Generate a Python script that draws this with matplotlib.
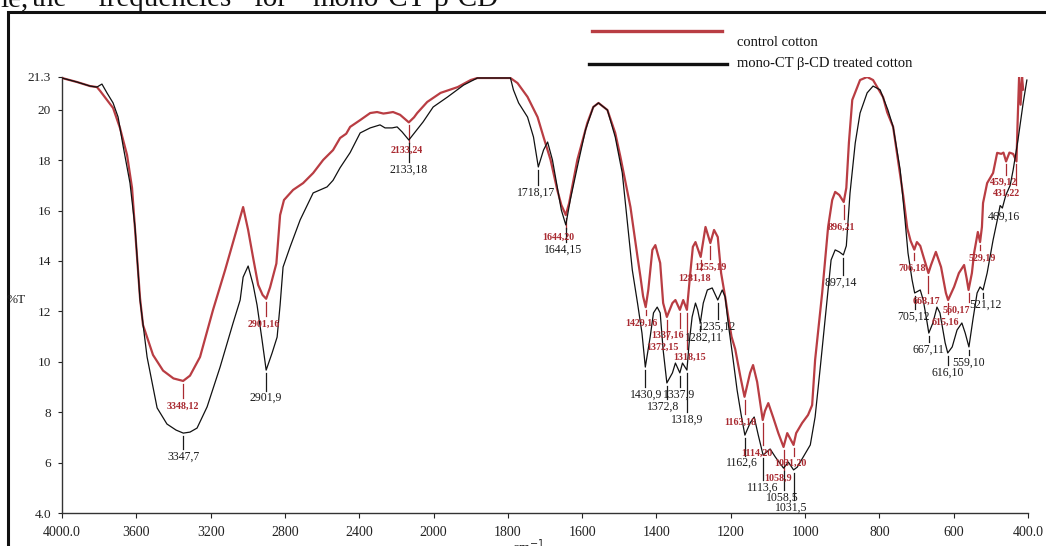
import numpy as np
import matplotlib
matplotlib.use("Agg")
import matplotlib.pyplot as plt
from matplotlib.lines import Line2D
from matplotlib.patches import Rectangle

plt.rcParams["font.family"] = ["Liberation Serif", "DejaVu Serif"]

# ---- spectra: wavenumber (cm-1) and %T ----
control_wn = [4000, 3919, 3849, 3812, 3795, 3758, 3725, 3688, 3650, 3623, 3596, 3580, 3564, 3510,
              3456, 3400, 3348, 3311, 3257, 3187, 3122, 3068, 3025, 2998, 2971, 2944, 2920, 2901,
              2880, 2862, 2846, 2826, 2805, 2756, 2702, 2648, 2594, 2541, 2503, 2470, 2449, 2395,
              2341, 2304, 2270, 2250, 2218, 2180, 2133, 2105, 2088, 2034, 1981, 1935, 1900, 1882,
              1793, 1774, 1747, 1720, 1704, 1685, 1667, 1656, 1644, 1635, 1613, 1586, 1570, 1556,
              1532, 1511, 1497, 1470, 1451, 1443, 1436, 1429, 1422, 1411, 1403, 1390, 1382, 1372,
              1357, 1349, 1337, 1328, 1318, 1310, 1302, 1295, 1281, 1268, 1255, 1245, 1235, 1226,
              1215, 1207, 1198, 1188, 1174, 1163, 1148, 1140, 1129, 1114, 1108, 1099, 1086, 1072,
              1058, 1048, 1040, 1031, 1024, 1008, 992, 981, 973, 954, 938, 927, 919, 908, 896, 889,
              882, 873, 852, 833, 817, 790, 779, 763, 750, 736, 725, 716, 706, 699, 690, 682, 668,
              661, 648, 634, 621, 615, 599, 586, 572, 565, 560, 551, 545, 535, 529, 524, 521, 510,
              494, 483, 472, 466, 459, 450, 440, 431, 428, 424, 420, 416, 413]
control_T = [21.26, 21.10, 20.94, 20.90, 20.75, 20.39, 20.07, 19.28, 18.21, 16.90, 14.12, 12.53, 11.46, 10.27,
             9.65, 9.34, 9.24, 9.45, 10.19, 12.06, 13.64, 15.03, 16.14, 15.23, 14.12, 13.05, 12.65, 12.50,
             12.95, 13.45, 13.90, 15.82, 16.42, 16.82, 17.09, 17.49, 18.01, 18.40, 18.88, 19.05, 19.32, 19.59,
             19.87, 19.91, 19.85, 19.87, 19.91, 19.80, 19.50, 19.70, 19.87, 20.31, 20.67, 20.90, 21.18, 21.26,
             21.26, 21.06, 20.51, 19.71, 18.92, 18.01, 16.82, 16.22, 15.82, 16.30, 18.01, 19.48, 20.11, 20.27,
             19.99, 19.08, 18.13, 16.14, 14.16, 13.36, 12.60, 12.17, 12.85, 14.44, 14.63, 13.92, 12.33, 11.78,
             12.33, 12.45, 12.06, 12.45, 12.06, 13.36, 14.56, 14.75, 14.16, 15.35, 14.71, 15.23, 14.95, 13.52,
             12.57, 11.80, 11.00, 10.50, 9.40, 8.61, 9.56, 9.87, 9.20, 7.69, 8.05, 8.36, 7.80, 7.17,
             6.62, 7.17, 6.95, 6.70, 7.17, 7.57, 7.89, 8.28, 10.07, 12.73, 15.35, 16.42, 16.74, 16.62, 16.34, 16.90,
             18.70, 20.39, 21.18, 21.30, 21.18, 20.50, 19.90, 19.32, 18.01, 16.60, 15.30, 14.80, 14.45, 14.75, 14.60, 14.20, 13.52,
             13.84, 14.36, 13.76, 12.73, 12.45, 12.97, 13.52, 13.84, 13.30, 12.85, 13.52, 14.32, 15.15, 14.75, 15.35, 16.30, 17.09,
             17.49, 18.29, 18.25, 18.30, 17.95, 18.30, 18.25, 17.95, 19.50, 21.30, 20.20, 21.30, 20.80]

treated_wn = [4000, 3919, 3849, 3812, 3785, 3758, 3725, 3698, 3672, 3634, 3607, 3580, 3542, 3488,
              3435, 3386, 3347, 3311, 3273, 3219, 3149, 3079, 3041, 3025, 2998, 2971, 2950, 2923,
              2901, 2869, 2842, 2826, 2810, 2772, 2718, 2648, 2573, 2541, 2503, 2449, 2395, 2341,
              2288, 2261, 2223, 2196, 2169, 2133, 2099, 2056, 2002, 1962, 1919, 1882, 1793, 1785,
              1771, 1747, 1731, 1718, 1704, 1693, 1680, 1667, 1656, 1644, 1632, 1613, 1591, 1570,
              1556, 1532, 1511, 1492, 1478, 1465, 1451, 1439, 1430, 1417, 1408, 1398, 1390, 1382,
              1372, 1357, 1349, 1337, 1330, 1318, 1312, 1304, 1295, 1289, 1282, 1274, 1263, 1250,
              1235, 1223, 1215, 1207, 1196, 1183, 1172, 1162, 1148, 1137, 1126, 1113, 1094, 1080,
              1058, 1045, 1031, 1021, 1005, 986, 973, 959, 941, 930, 919, 908, 897, 889, 879, 865,
              852, 833, 817, 798, 777, 763, 744, 731, 723, 712, 705, 690, 682, 672, 667, 656, 645,
              637, 623, 616, 604, 591, 578, 569, 559, 548, 537, 529, 521, 510, 494, 483, 475, 469,
              460, 448, 440, 427, 413, 403]
treated_T = [21.26, 21.10, 20.94, 20.90, 21.02, 20.67, 20.27, 19.71, 18.60, 17.09, 15.35, 12.45, 10.19, 8.17,
             7.53, 7.29, 7.17, 7.21, 7.37, 8.21, 9.79, 11.54, 12.45, 13.36, 13.80, 13.05, 12.25, 10.86,
             9.67, 10.35, 10.98, 12.25, 13.76, 14.56, 15.63, 16.70, 16.94, 17.20, 17.70, 18.30, 19.08, 19.28,
             19.40, 19.28, 19.28, 19.32, 19.12, 18.80, 19.12, 19.52, 20.11, 20.51, 20.98, 21.26, 21.26, 20.79,
             20.27, 19.71, 18.92, 17.73, 18.40, 18.72, 18.01, 16.94, 16.02, 15.43, 16.42, 17.73, 19.20, 20.11,
             20.27, 19.99, 18.92, 17.49, 15.51, 13.64, 12.33, 11.14, 9.79, 10.98, 11.94, 12.17, 11.94, 10.47,
             9.16, 9.56, 9.95, 9.56, 9.95, 9.67, 10.75, 11.78, 12.33, 12.06, 11.54, 12.33, 12.85, 12.93,
             12.45, 12.85, 12.57, 11.54, 10.35, 8.88, 7.89, 7.09, 7.57, 7.81, 7.09, 6.30, 6.54, 6.22,
             5.78, 6.02, 5.71, 5.82, 6.22, 6.70, 7.81, 9.79, 12.45, 14.04, 14.44, 14.36, 14.24, 14.60, 16.70, 18.68,
             19.87, 20.67, 20.94, 20.79, 19.99, 19.32, 17.61, 15.63, 14.32, 13.25, 12.73, 12.85, 12.45, 11.60, 11.14, 11.54, 12.17,
             11.94, 10.75, 10.35, 10.59, 11.26, 11.54, 11.14, 10.59, 11.70, 12.73, 12.97, 12.85, 13.52, 14.83, 15.60, 16.20, 16.10,
             16.60, 17.00, 17.61, 18.80, 20.27, 21.18]

# ---- peak labels ----
control_peaks = [3348, 2901, 2133, 1644, 1429, 1372, 1337, 1318, 1281, 1255, 1163, 1114, 1058, 1031,
                 896, 706, 668, 615, 560, 529, 459, 431]
control_texts = ["3348,12", "2901,16", "2133,24", "1644,20", "1429,16", "1372,15", "1337,16", "1318,15",
                 "1281,18", "1255,19", "1163,18", "1114,20", "1058,9", "1031,20", "896,21", "706,18",
                 "668,17", "615,16", "560,17", "529,19", "459,12", "431,22"]
control_text_x = [3348, 2912, 2145, 1665, 1441, 1384, 1370, 1312, 1298, 1255, 1174, 1131, 1072, 1040,
                  903, 712, 674, 622, 592, 524, 467, 457]
control_text_T = [8.25, 11.50, 18.40, 14.95, 11.54, 10.59, 11.06, 10.19, 13.33, 13.76, 7.61, 6.38, 5.39, 5.98,
                  15.35, 13.72, 12.41, 11.58, 12.06, 14.12, 17.13, 16.70]

treated_peaks = [3347, 2901, 2133, 1718, 1644, 1430, 1372, 1337, 1318, 1282, 1235, 1162, 1113, 1058, 1031,
                 897, 705, 667, 616, 559, 521, 469]
treated_texts = ["3347,7", "2901,9", "2133,18", "1718,17", "1644,15", "1430,9", "1372,8", "1337,9", "1318,9",
                 "1282,11", "1235,12", "1162,6", "1113,6", "1058,5", "1031,5", "897,14", "705,12", "667,11",
                 "616,10", "559,10", "521,12", "469,16"]
treated_text_x = [3347, 2901, 2133, 1723, 1650, 1427, 1381, 1338, 1317, 1273, 1236, 1169, 1115, 1061, 1037,
                  903, 709, 667, 617, 561, 514, 465]
treated_text_T = [6.22, 8.56, 17.61, 16.70, 14.44, 8.68, 8.21, 8.68, 7.69, 10.94, 11.38, 5.98, 4.99, 4.60, 4.20,
                  13.13, 11.78, 10.47, 9.56, 9.95, 12.25, 15.75]

x_ticks = [4000, 3600, 3200, 2800, 2400, 2000, 1800, 1600, 1400, 1200, 1000, 800, 600, 400]
x_tick_labels = ["4000.0", "3600", "3200", "2800", "2400", "2000", "1800", "1600", "1400", "1200",
                 "1000", "800", "600", "400.0"]
y_ticks = [4.0, 6, 8, 10, 12, 14, 16, 18, 20, 21.3]
y_tick_labels = ["4.0", "6", "8", "10", "12", "14", "16", "18", "20", "21.3"]

RED = "#b93d43"
RED_TEXT = "#a92a31"

W, H = 1046, 546
fig = plt.figure(figsize=(W / 100, H / 100), dpi=100)
fig.patch.set_facecolor("white")


def px(x, y):
    """figure pixel (from top-left) -> figure fraction"""
    return x / W, 1 - y / H


ax = fig.add_axes([62 / W, 1 - 513 / H, (1028 - 62) / W, (513 - 77) / H])


# the wavenumber axis is compressed by a factor of two above 2000 cm-1
def fwd(w):
    w = np.asarray(w, dtype=float)
    return np.where(w > 2000, 2000 + (w - 2000) / 2.0, w)


def inv(v):
    v = np.asarray(v, dtype=float)
    return np.where(v > 2000, 2000 + (v - 2000) * 2.0, v)


ax.set_xscale("function", functions=(fwd, inv))
ax.set_xlim(4000, 400)
ax.set_ylim(4.0, 21.3)

for s in ("top", "right"):
    ax.spines[s].set_visible(False)
for s in ("left", "bottom"):
    ax.spines[s].set_linewidth(1.0)
    ax.spines[s].set_color("#333333")

ax.set_xticks(x_ticks)
ax.set_xticklabels(x_tick_labels)
ax.set_yticks(y_ticks)
ax.set_yticklabels(y_tick_labels)
ax.minorticks_off()
ax.tick_params(axis="x", direction="out", length=3.5, width=0.8, pad=6, labelsize=10, colors="#222222")
ax.tick_params(axis="y", direction="out", length=3, width=0.8, pad=5, labelsize=9.5, colors="#222222")

ax.plot(control_wn, control_T, color=RED, lw=1.6, solid_joinstyle="round", zorder=3)
ax.plot(treated_wn, treated_T, color="#111111", lw=0.9, solid_joinstyle="round", zorder=4)


def label_peaks(peaks, texts, tx, tT, cwn, cT, color, size, weight):
    xs = np.asarray(cwn, dtype=float)[::-1]
    ys = np.asarray(cT, dtype=float)[::-1]
    for w, s, x, y in zip(peaks, texts, tx, tT):
        top = np.interp(w, xs, ys) - 0.12
        bottom = y + 0.3
        if top > bottom:
            ax.plot([w, w], [bottom, top], color=color, lw=0.9, zorder=2, clip_on=False)
        ax.text(x, y, s, ha="center", va="center", color=color, fontsize=size,
                fontweight=weight, zorder=5, clip_on=False)


label_peaks(control_peaks, control_texts, control_text_x, control_text_T,
            control_wn, control_T, RED_TEXT, 7.2, "bold")
label_peaks(treated_peaks, treated_texts, treated_text_x, treated_text_T,
            treated_wn, treated_T, "#1a1a1a", 8.5, "normal")

# axis titles
fig.text(*px(16, 300), "%T", ha="center", va="center", fontsize=9.5, color="#222222")
fig.text(*px(528, 553), "cm$^{-1}$", ha="center", va="baseline", fontsize=10, color="#222222")

# legend drawn as plain lines and text
fig.add_artist(Line2D([592 / W, 722 / W], [1 - 31 / H, 1 - 31 / H], color=RED, lw=2.4,
                      transform=fig.transFigure))
fig.add_artist(Line2D([589 / W, 727 / W], [1 - 64 / H, 1 - 64 / H], color="#111111", lw=2.4,
                      transform=fig.transFigure))
fig.text(*px(737, 42), "control cotton", ha="left", va="center", fontsize=10.5, color="#111111")
fig.text(*px(737, 63), "mono-CT \u03b2-CD treated cotton", ha="left", va="center", fontsize=10.5,
         color="#111111")

# surrounding frame and the line of page text above it
fig.add_artist(Rectangle((8 / W, -0.2), 1.2, (1 - 12 / H) + 0.2, fill=False, lw=2.2,
                         edgecolor="#111111", transform=fig.transFigure))
page_words = ["le,", "the", "frequencies", "for", "mono-CT", "\u03b2-CD"]
page_word_x = [0, 32, 97, 253, 312, 433]
for wtxt, x in zip(page_words, page_word_x):
    fig.text(*px(x, 6), wtxt, ha="left", va="baseline", fontsize=21, color="#111111")

fig.savefig("out.png", dpi=100)
